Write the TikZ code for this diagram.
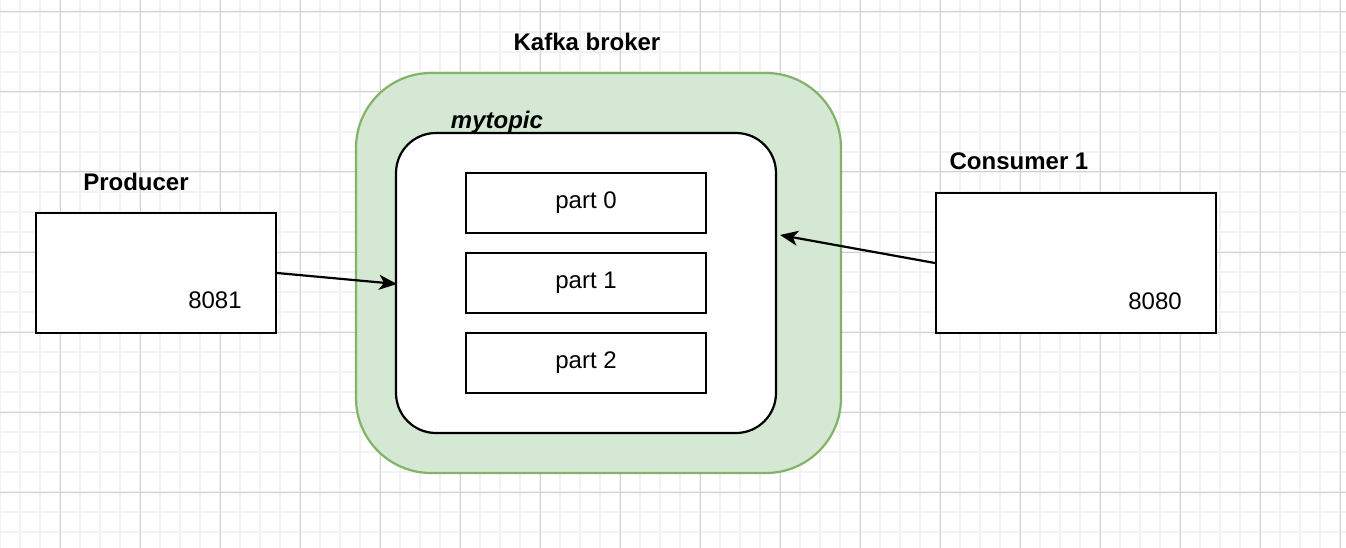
\documentclass[tikz,border=0pt]{standalone}
\usepackage{fontspec}
\setmainfont{Liberation Sans}
\usetikzlibrary{arrows.meta}
\definecolor{minorgrid}{HTML}{F2F2F2}
\definecolor{majorgrid}{HTML}{D0D0D0}
\definecolor{brokerfill}{HTML}{D5E8D4}
\definecolor{brokerline}{HTML}{82B366}
\begin{document}
\begin{tikzpicture}[x=1pt,y=-1pt,
  txt/.style={font=\fontsize{24}{28}\selectfont, inner sep=0pt},
  boldtxt/.style={font=\fontsize{24}{28}\selectfont\bfseries, inner sep=0pt},
  box/.style={draw=black, line width=2.2pt, fill=white},
  conn/.style={draw=black, line width=2.2pt, -{Stealth[length=18pt,width=15pt,inset=5pt]}}
]
\useasboundingbox (0,0) rectangle (1346,548);
\fill[white] (0,0) rectangle (1346,548);
% grid
\foreach \x in {0,20,...,1340} \draw[minorgrid, line width=1.2pt] (\x,0) -- (\x,548);
\foreach \y in {12,32,...,548} \draw[minorgrid, line width=1.2pt] (0,\y) -- (1346,\y);
\foreach \x in {60,140,...,1340} \draw[majorgrid, line width=1pt] (\x,0) -- (\x,548);
\foreach \y in {12,92,...,548} \draw[majorgrid, line width=1pt] (0,\y) -- (1346,\y);
% broker
\draw[fill=brokerfill, draw=brokerline, line width=2.2pt, rounded corners=75pt] (356,73) rectangle (841,473);
\node[boldtxt] (brokerlbl) at (587,42) {Kafka broker};
\draw[box, rounded corners=40pt] (396,133) rectangle (776,433);
\coordinate (topicL) at (397,284);
\coordinate (topicR) at (780,235);
\node[font=\fontsize{24}{28}\selectfont\bfseries\itshape, inner sep=0pt] (topiclbl) at (497,122) {mytopic};
\node[box, minimum width=240pt, minimum height=60pt, txt] (p0) at (586,203) {part 0};
\node[box, minimum width=240pt, minimum height=60pt, txt] (p1) at (586,283) {part 1};
\node[box, minimum width=240pt, minimum height=60pt, txt] (p2) at (586,363) {part 2};
% producer
\node[box, minimum width=240pt, minimum height=120pt, inner sep=0pt] (prod) at (156,273) {};
\node[boldtxt] (prodlbl) at (136,182) {Producer};
\node[txt] (prodport) at (215,300) {8081};
% consumer
\node[box, minimum width=280pt, minimum height=140pt, inner sep=0pt] (cons) at (1076,263) {};
\node[boldtxt] (conslbl) at (1019,161) {Consumer 1};
\node[txt] (consport) at (1155,301) {8080};
% arrows
\draw[conn] (prod.east) -- (topicL);
\draw[conn] (cons.west) -- (topicR);
\end{tikzpicture}
\end{document}
